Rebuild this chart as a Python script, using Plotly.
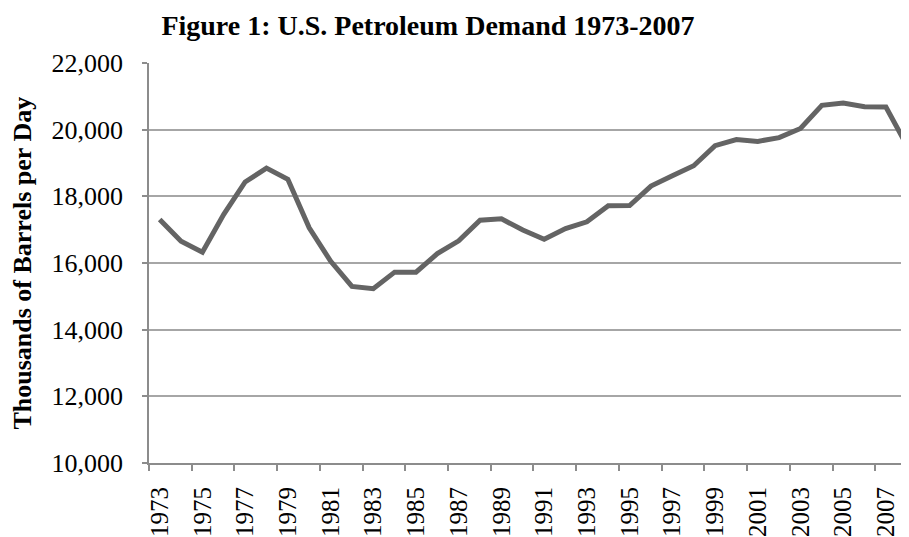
import plotly.graph_objects as go

years = [str(y) for y in range(1973, 2009)]
demand = [17308, 16653, 16322, 17461, 18431, 18847, 18513, 17056, 16058, 15296,
          15231, 15726, 15726, 16281, 16665, 17283, 17325, 16988, 16714, 17033,
          17237, 17718, 17725, 18309, 18620, 18917, 19519, 19701, 19649, 19761,
          20034, 20731, 20802, 20687, 20680, 19498]
y_ticks = [10000, 12000, 14000, 16000, 18000, 20000, 22000]

title_text = "Figure 1: U.S. Petroleum Demand 1973-2007"
y_title = "Thousands of Barrels per Day"

# page has an 8px body margin, so the figure is sized to fit the 909x537 window
OFF = 8
W, H = 909 - OFF, 537 - OFF
L = 148.5 - OFF
T = 62.7 - OFF
B = H - (462.7 - OFF)
R = 0

fig = go.Figure()
fig.add_trace(go.Scatter(x=years, y=demand, mode="lines",
                         line=dict(color="#646464", width=5),
                         hoverinfo="x+y", showlegend=False))

font_family = "Liberation Serif, Times New Roman, serif"

fig.update_layout(
    width=W, height=H,
    margin=dict(l=L, r=R, t=T, b=B, pad=0),
    paper_bgcolor="white", plot_bgcolor="white",
    font=dict(family=font_family, size=26, color="black"),
    title=dict(text="<b>" + title_text + "</b>", x=(428 - OFF) / W, xref="container",
               xanchor="center", y=1 - (25.5 - OFF) / H, yref="container", yanchor="middle",
               font=dict(family=font_family, size=28, color="black")),
    xaxis=dict(type="category", range=[-0.5, 35.08], tickson="boundaries",
               dtick=2, tickangle=-90, ticks="outside", ticklen=6, tickwidth=1.5,
               tickcolor="#8c8c8c", showline=True, linecolor="#8c8c8c", linewidth=1.8,
               showgrid=False, automargin=False, ticklabelstandoff=12,
               tickfont=dict(family=font_family, size=25, color="black")),
    yaxis=dict(range=[10000, 22000], tickvals=y_ticks, tickformat=",d",
               ticks="outside", ticklen=5, tickwidth=1.5, tickcolor="#8c8c8c",
               showline=True, linecolor="#8c8c8c", linewidth=1.8,
               showgrid=True, gridcolor="#a6a6a6", gridwidth=1.5,
               zeroline=False, automargin=False, ticklabelstandoff=14,
               tickfont=dict(family=font_family, size=26, color="black")),
    annotations=[dict(text="<b>" + y_title + "</b>", textangle=-90,
                      xref="paper", yref="paper", x=(21 - 148.5) / (909 - 148.5), y=0.5,
                      xanchor="center", yanchor="middle", showarrow=False,
                      font=dict(family=font_family, size=26, color="black"))],
)

fig.write_html("out.html")
